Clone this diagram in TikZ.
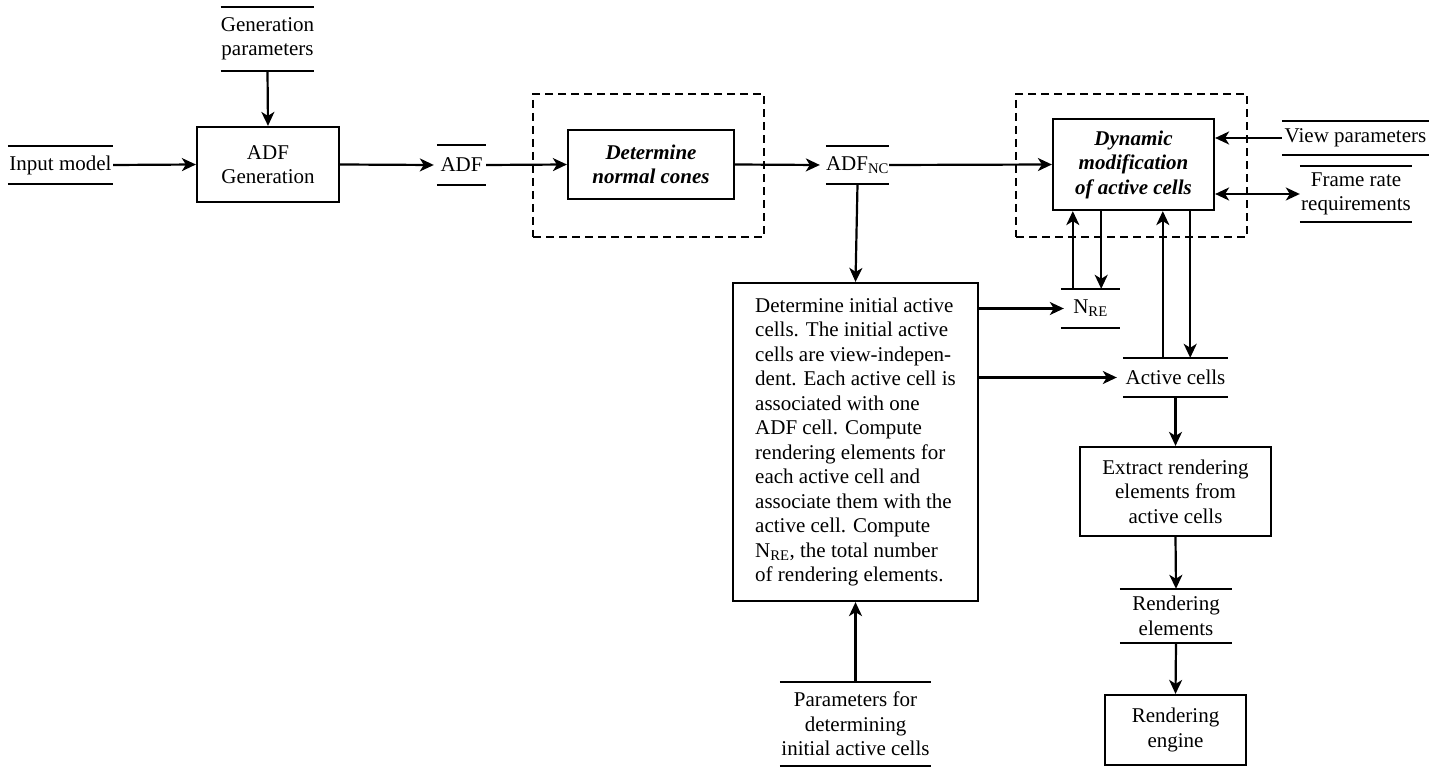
\documentclass[tikz,border=0pt]{standalone}
\usepackage{fontspec}
\setmainfont{Liberation Serif}
\usetikzlibrary{arrows.meta}
\begin{document}
\begin{tikzpicture}[x=1pt,y=-1pt,
  every node/.style={font=\fontsize{21}{24.5}\selectfont, inner sep=0pt, align=center},
  proc/.style={draw, line width=2.2pt, rectangle},
  store/.style={rectangle},
  dashbox/.style={draw, line width=2pt, dash pattern=on 8pt off 5pt},
  tip/.style={},
  arr/.style={line width=2.2pt, -{Stealth[length=14pt,width=13pt,inset=4pt]}},
  darr/.style={line width=2.2pt, {Stealth[length=14pt,width=13pt,inset=4pt]}-{Stealth[length=14pt,width=13pt,inset=4pt]}},
  sline/.style={line width=2.2pt}
]
\useasboundingbox (0,0) rectangle (1445,767);

% dashed groups
\node[dashbox, minimum width=231pt, minimum height=143pt] (dash1) at (648.5,165.5) {};
\node[dashbox, minimum width=231pt, minimum height=143pt] (dash2) at (1131.5,165.5) {};

% stores
\node[store, minimum width=91pt, minimum height=64pt] (gp) at (267.5,39) {Generation\\parameters};
\node[store, minimum width=105pt, minimum height=38pt] (im) at (60.5,165) {Input model};
\node[store, minimum width=49pt, minimum height=39pt] (adf) at (461.5,165) {ADF};
\node[store, minimum width=59pt, minimum height=38pt] (adfnc) at (857.5,165) {ADF\textsubscript{NC}};
\node[store, minimum width=147pt, minimum height=34pt] (vp) at (1355.5,138) {View parameters};
\node[store, minimum width=112pt, minimum height=56pt] (fr) at (1356,194) {Frame rate\\requirements};
\node[store, minimum width=59pt, minimum height=39pt] (nre) at (1090.5,308.5) {N\textsubscript{RE}};
\node[store, minimum width=105pt, minimum height=39pt] (ac) at (1175.5,377.5) {Active cells};
\node[store, minimum width=151pt, minimum height=84pt] (pa) at (855.5,724) {Parameters for\\determining\\initial active cells};
\node[store, minimum width=112pt, minimum height=54pt] (re) at (1176,616) {Rendering\\elements};

\foreach \n in {gp,im,adf,adfnc,vp,fr,nre,ac,pa,re}
  \draw[sline] (\n.north west) -- (\n.north east) (\n.south west) -- (\n.south east);

% processes
\node[proc, minimum width=142pt, minimum height=75pt] (gen) at (268,164.5) {ADF\\Generation};
\node[proc, minimum width=166pt, minimum height=69pt, font=\fontsize{21}{24.5}\selectfont\bfseries\itshape] (nc) at (651,164.5) {Determine\\normal cones};
\node[proc, minimum width=161pt, minimum height=91pt, font=\fontsize{21}{24.5}\selectfont\bfseries\itshape] (dyn) at (1133.5,164.5) {Dynamic\\modification\\of active cells};
\node[proc, minimum width=245pt, minimum height=318pt, align=left] (init) at (855.5,442) {Determine initial active\\cells. The initial active\\cells are view-indepen-\\dent. Each active cell is\\associated with one\\ADF cell. Compute\\rendering elements for\\each active cell and\\associate them with the\\active cell. Compute\\N\textsubscript{RE}, the total number\\of rendering elements.};
\node[proc, minimum width=191pt, minimum height=89pt] (ext) at (1175.5,491.5) {Extract rendering\\elements from\\active cells};
\node[proc, minimum width=141pt, minimum height=70pt] (eng) at (1175.5,730) {Rendering\\engine};

% connectors
\draw[arr] (gp.south) -- (gen.north);
\draw[arr] (im.east) -- (gen.west);
\draw[arr] (gen.east) -- ([xshift=-3pt]adf.west);
\draw[arr] (adf.east) -- (nc.west);
\draw[arr] (nc.east) -- ([xshift=-6pt]adfnc.west);
\draw[arr] (adfnc.east) -- (dyn.west);
\draw[arr] (adfnc.south) -- (init.north);
\draw[arr] (vp.west) -- (dyn.east |- vp.west);
\draw[darr] (dyn.east |- fr.west) -- (fr.west);
\draw[arr] ([xshift=12pt]nre.north west) -- ([xshift=12pt]nre.north west |- dyn.south);
\draw[arr] ([xshift=-19pt]nre.north east |- dyn.south) -- ([xshift=-19pt]nre.north east);
\draw[arr] ([xshift=40pt]ac.north west) -- ([xshift=40pt]ac.north west |- dyn.south);
\draw[arr] ([xshift=-38pt]ac.north east |- dyn.south) -- ([xshift=-38pt]ac.north east);
\draw[arr] (init.east |- nre.west) -- ([xshift=3pt]nre.west);
\draw[arr] (init.east |- ac.west) -- ([xshift=-6pt]ac.west);
\draw[arr] (ac.south) -- (ext.north);
\draw[arr] (ext.south) -- (re.north);
\draw[arr] (re.south) -- (eng.north);
\draw[arr] (pa.north) -- (init.south);
\end{tikzpicture}
\end{document}
